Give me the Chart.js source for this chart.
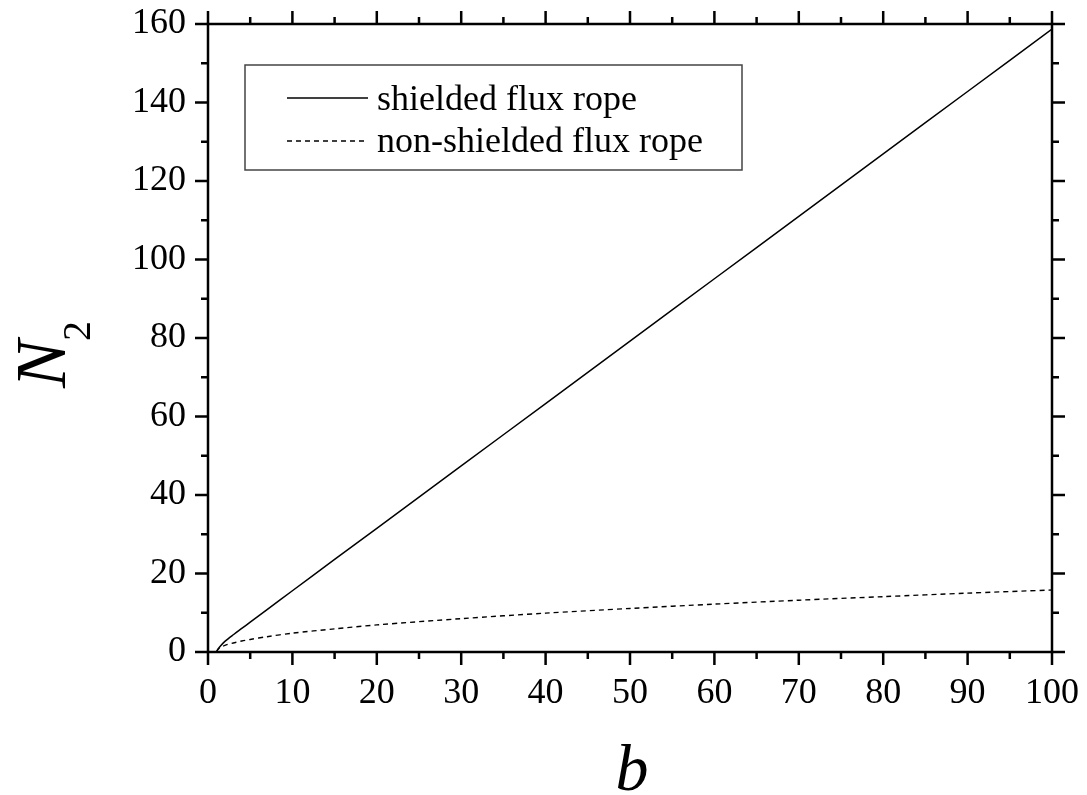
<!DOCTYPE html>
<html>
<head>
<meta charset="utf-8">
<script src="https://cdn.jsdelivr.net/npm/chart.js@4/dist/chart.umd.min.js"></script>
<style>
  html, body { margin: 0; padding: 0; background: #fff; }
  #wrap { width: 1087px; height: 795px; position: relative; }
</style>
</head>
<body>
<div id="wrap"><canvas id="c" width="1087" height="795"></canvas></div>
<script>
// ---- data ----
const bValues = [1, 1.2, 1.5, 2, 3, 4, 5, 7, 10, 15, 20, 30, 40, 50, 60, 70, 80, 90, 100];
const shielded = [0, 0.8, 1.6, 2.7, 4.4, 6.0, 7.6, 10.8, 15.6, 23.6, 31.5, 47.4, 63.3, 79.2, 95.1, 111.0, 126.9, 142.8, 158.7];
const nonShielded = [0, 0.7, 1.1, 1.7, 2.3, 2.8, 3.2, 3.9, 4.8, 5.9, 6.9, 8.5, 9.9, 11.1, 12.2, 13.2, 14.1, 15.0, 15.8];
const seriesLabels = ['shielded flux rope', 'non-shielded flux rope'];
const xTicks = [0, 10, 20, 30, 40, 50, 60, 70, 80, 90, 100];
const yTicks = [0, 20, 40, 60, 80, 100, 120, 140, 160];
const xMinor = [5, 15, 25, 35, 45, 55, 65, 75, 85, 95];
const yMinor = [10, 30, 50, 70, 90, 110, 130, 150];
const xTitle = 'b';
const yTitle = 'N';
const yTitleSub = '2';

const FONT = '"Liberation Serif", "Times New Roman", serif';

const toPts = (xs, ys) => xs.map((x, i) => ({ x: x, y: ys[i] }));

function zeroPad(scale) {
  scale.paddingTop = 0; scale.paddingBottom = 0;
  scale.paddingLeft = 0; scale.paddingRight = 0;
}

const framePlugin = {
  id: 'frame',
  afterDraw(chart) {
    const ctx = chart.ctx;
    const xs = chart.scales.x, ys = chart.scales.y;
    const a = chart.chartArea;
    ctx.save();
    ctx.strokeStyle = '#000';
    ctx.lineWidth = 2.5;
    ctx.lineCap = 'butt';
    // frame
    ctx.strokeRect(a.left, a.top, a.right - a.left, a.bottom - a.top);
    const MAJ = 13, MIN = 7;
    ctx.beginPath();
    xTicks.forEach(v => {
      const px = xs.getPixelForValue(v);
      ctx.moveTo(px, a.bottom); ctx.lineTo(px, a.bottom + MAJ);
      ctx.moveTo(px, a.top); ctx.lineTo(px, a.top - MAJ);
    });
    xMinor.forEach(v => {
      const px = xs.getPixelForValue(v);
      ctx.moveTo(px, a.bottom); ctx.lineTo(px, a.bottom + MIN);
      ctx.moveTo(px, a.top); ctx.lineTo(px, a.top - MIN);
    });
    yTicks.forEach(v => {
      const py = ys.getPixelForValue(v);
      ctx.moveTo(a.left, py); ctx.lineTo(a.left - MAJ, py);
      ctx.moveTo(a.right, py); ctx.lineTo(a.right + MAJ, py);
    });
    yMinor.forEach(v => {
      const py = ys.getPixelForValue(v);
      ctx.moveTo(a.left, py); ctx.lineTo(a.left - MIN, py);
      ctx.moveTo(a.right, py); ctx.lineTo(a.right + MIN, py);
    });
    ctx.stroke();

    // legend box
    const lx = 245, ly = 65, lw = 497, lh = 105;
    ctx.lineWidth = 1.5;
    ctx.strokeStyle = '#444';
    ctx.strokeRect(lx, ly, lw, lh);
    ctx.font = '36px ' + FONT;
    ctx.fillStyle = '#000';
    ctx.textBaseline = 'alphabetic';
    ctx.textAlign = 'left';
    chart.data.datasets.forEach((ds, i) => {
      const yLine = 98 + i * 43;
      ctx.strokeStyle = '#000';
      ctx.lineWidth = 1.3;
      ctx.setLineDash(ds.borderDash || []);
      ctx.beginPath();
      ctx.moveTo(287, yLine); ctx.lineTo(368, yLine);
      ctx.stroke();
      ctx.setLineDash([]);
      ctx.fillText(ds.label, 377, 110 + i * 42);
    });

    // axis titles
    ctx.fillStyle = '#000';
    ctx.font = 'italic 66px ' + FONT;
    ctx.textAlign = 'center';
    ctx.textBaseline = 'alphabetic';
    ctx.fillText(xTitle, (a.left + a.right) / 2 + 2, 790);

    ctx.save();
    ctx.translate(65, 388);
    ctx.rotate(-Math.PI / 2);
    ctx.textAlign = 'left';
    ctx.font = 'italic 72px ' + FONT;
    ctx.fillText(yTitle, 0, 0);
    ctx.font = '40px ' + FONT;
    ctx.fillText(yTitleSub, 47, 25);
    ctx.restore();
    ctx.restore();
  }
};

new Chart(document.getElementById('c'), {
  type: 'line',
  data: {
    datasets: [
      {
        label: seriesLabels[0],
        data: toPts(bValues, shielded),
        borderColor: '#000',
        borderWidth: 1.5,
        pointRadius: 0,
        fill: false,
        tension: 0.3
      },
      {
        label: seriesLabels[1],
        data: toPts(bValues, nonShielded),
        borderColor: '#000',
        borderWidth: 1.4,
        borderDash: [5, 4],
        pointRadius: 0,
        fill: false,
        tension: 0.3
      }
    ]
  },
  options: {
    responsive: false,
    animation: false,
    devicePixelRatio: 1,
    layout: { padding: { left: 0, right: 35, top: 24, bottom: 0 } },
    plugins: { legend: { display: false }, tooltip: { enabled: false } },
    scales: {
      x: {
        type: 'linear',
        min: 0, max: 100,
        afterBuildTicks(scale) { scale.ticks = xTicks.map(v => ({ value: v })); },
        grid: { display: false, drawTicks: false },
        border: { display: false },
        ticks: { font: { family: FONT, size: 36 }, color: '#000', padding: 20, maxRotation: 0, autoSkip: false },
        afterFit(scale) { scale.height = 143; zeroPad(scale); }
      },
      y: {
        type: 'linear',
        min: 0, max: 160,
        afterBuildTicks(scale) { scale.ticks = yTicks.map(v => ({ value: v })); },
        grid: { display: false, drawTicks: false },
        border: { display: false },
        ticks: { font: { family: FONT, size: 36 }, color: '#000', padding: 22, autoSkip: false },
        afterFit(scale) { scale.width = 208; zeroPad(scale); }
      }
    }
  },
  plugins: [framePlugin]
});
</script>
</body>
</html>
